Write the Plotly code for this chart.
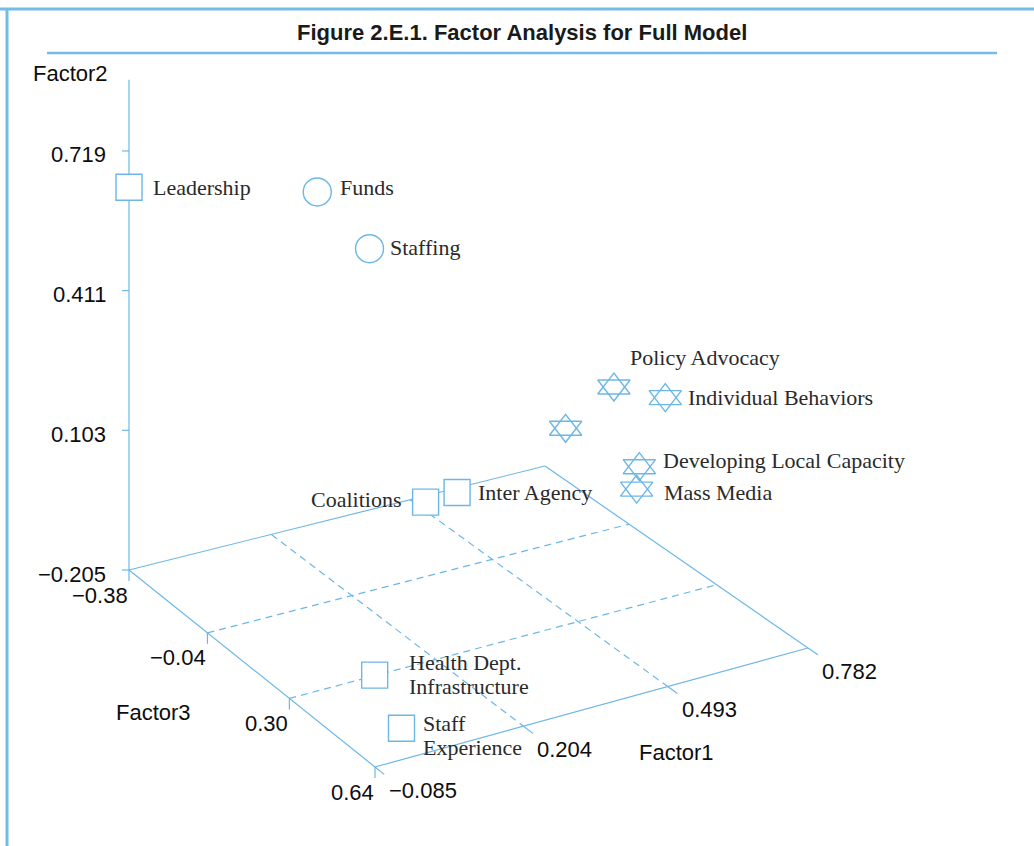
import plotly.graph_objects as go

# ---------------- data ----------------
ITEMS = ["Leadership", "Funds", "Staffing", "Policy Advocacy", "Individual Behaviors", "",
         "Developing Local Capacity", "Mass Media", "Coalitions", "Inter Agency",
         "Health Dept.\nInfrastructure", "Staff\nExperience"]
FACTOR1 = [-0.085, 0.200, 0.282, 0.768, 0.767, 0.665, 0.712, 0.651, 0.449, 0.541, -0.010, -0.034]
FACTOR2 = [0.639, 0.632, 0.505, 0.094, 0.147, 0.028, 0.008, 0.014, -0.139, -0.162, -0.100, -0.140]
FACTOR3 = [-0.380, -0.176, -0.125, -0.074, 0.130, -0.074, 0.130, 0.232, -0.227, -0.278, 0.487, 0.640]
GROUP = ["square", "circle", "circle", "star", "star", "star", "star", "star",
         "square", "square", "square", "square"]

F1_TICKS = [-0.085, 0.204, 0.493, 0.782]
F1_LABELS = ["\u22120.085", "0.204", "0.493", "0.782"]
F2_TICKS = [-0.205, 0.103, 0.411, 0.719]
F2_LABELS = ["\u22120.205", "0.103", "0.411", "0.719"]
F3_TICKS = [-0.38, -0.04, 0.30, 0.64]
F3_LABELS = ["\u22120.38", "\u22120.04", "0.30", "0.64"]
F2_AXIS_TOP = 0.876

TITLE = "Figure 2.E.1. Factor Analysis for Full Model"

# ---------------- projection (layout geometry) ----------------
W, H = 1034, 846
P0, P1, P2, P3 = (129, 570), (545, 466), (808, 648), (375, 767)  # floor corners (s,t)=(0,0),(1,0),(1,1),(0,1)
V_SCALE = 453.5  # px per unit of Factor2 at back-left corner

dx1, dx2 = P1[0] - P2[0], P3[0] - P2[0]
dy1, dy2 = P1[1] - P2[1], P3[1] - P2[1]
sx = P0[0] - P1[0] + P2[0] - P3[0]
sy = P0[1] - P1[1] + P2[1] - P3[1]
den = dx1 * dy2 - dx2 * dy1
g = (sx * dy2 - dx2 * sy) / den
h = (dx1 * sy - sx * dy1) / den
a = P1[0] - P0[0] + g * P1[0]
b = P3[0] - P0[0] + h * P3[0]
c = P0[0]
d = P1[1] - P0[1] + g * P1[1]
e = P3[1] - P0[1] + h * P3[1]
f = P0[1]

F1MIN, F1MAX = F1_TICKS[0], F1_TICKS[-1]
F3MIN, F3MAX = F3_TICKS[0], F3_TICKS[-1]
F2MIN = F2_TICKS[0]


def project(f1, f2, f3):
    s = (f1 - F1MIN) / (F1MAX - F1MIN)
    t = (f3 - F3MIN) / (F3MAX - F3MIN)
    w = g * s + h * t + 1
    x = (a * s + b * t + c) / w
    y = (d * s + e * t + f) / w - (f2 - F2MIN) * V_SCALE / w
    return x, y


LINE = "#6db7e6"
TXT = "#2a2a2a"

fig = go.Figure()


def seg_trace(segs, dash="solid", width=1.2):
    xs, ys = [], []
    for (x0, y0), (x1, y1) in segs:
        xs += [x0, x1, None]
        ys += [y0, y1, None]
    fig.add_trace(go.Scatter(x=xs, y=ys, mode="lines", hoverinfo="skip", showlegend=False,
                             line=dict(color=LINE, width=width, dash=dash)))


# floor edges + factor2 axis
solid = [
    (project(F1MIN, F2MIN, F3MIN), project(F1MAX, F2MIN, F3MIN)),
    (project(F1MAX, F2MIN, F3MIN), project(F1MAX, F2MIN, F3MAX)),
    (project(F1MAX, F2MIN, F3MAX), project(F1MIN, F2MIN, F3MAX)),
    (project(F1MIN, F2MIN, F3MAX), project(F1MIN, F2MIN, F3MIN)),
    (project(F1MIN, F2MIN, F3MIN), project(F1MIN, F2_AXIS_TOP, F3MIN)),
]
# tick marks
for v in F2_TICKS:
    x, y = project(F1MIN, v, F3MIN)
    solid.append(((x - 7, y), (x, y)))
for v in F3_TICKS:
    x, y = project(F1MIN, F2MIN, v)
    solid.append(((x, y), (x, y + 11)))
ext = 0.035 * (F3MAX - F3MIN)
for v in F1_TICKS:
    solid.append((project(v, F2MIN, F3MAX), project(v, F2MIN, F3MAX + ext)))
seg_trace(solid)

dashed = []
for v in F3_TICKS[1:-1]:
    dashed.append((project(F1MIN, F2MIN, v), project(F1MAX, F2MIN, v)))
for v in F1_TICKS[1:-1]:
    dashed.append((project(v, F2MIN, F3MIN), project(v, F2MIN, F3MAX)))
seg_trace(dashed, dash="7px,5px")

# markers
pts = [project(FACTOR1[i], FACTOR2[i], FACTOR3[i]) for i in range(len(ITEMS))]
for grp, sym_list, size, fill in [("square", ["square"], 26, "white"), ("circle", ["circle"], 28, "white"),
                                  ("star", ["triangle-up-open", "triangle-down-open"], 28, LINE)]:
    idx = [i for i in range(len(ITEMS)) if GROUP[i] == grp]
    for sym in sym_list:
        fig.add_trace(go.Scatter(
            x=[pts[i][0] for i in idx], y=[pts[i][1] for i in idx], mode="markers",
            hoverinfo="skip", showlegend=False,
            marker=dict(symbol=sym, size=size, color=fill,
                        line=dict(color=LINE, width=1.4))))

# point labels: (dx, dy, anchor) pixel offsets
LABEL_OFFSETS = [(22, 0, "left"), (21, -4, "left"), (18, -1, "left"), (14, -30, "left"),
                 (21, 0, "left"), (0, 0, "left"), (22, -6, "left"), (25, 3, "left"),
                 (-23, -3, "right"), (19, 0, "left"), (32, -1, "left"), (19, 7, "left")]
ann = []
for i, name in enumerate(ITEMS):
    if not name:
        continue
    lines = name.split("\n")
    dx, dy, anc = LABEL_OFFSETS[i]
    for j, ln in enumerate(lines):
        ann.append(dict(x=pts[i][0] + dx, y=pts[i][1] + dy + (j - (len(lines) - 1) / 2) * 24,
                        text=ln, xanchor=anc, yanchor="middle", showarrow=False,
                        font=dict(family="Liberation Serif", size=22, color=TXT)))

TICKFONT = dict(family="Liberation Sans", size=22, color="#0d0d0d")
for v, lab in zip(F2_TICKS, F2_LABELS):
    x, y = project(F1MIN, v, F3MIN)
    ann.append(dict(x=x - 21, y=y + 4, text=lab, xanchor="right", yanchor="middle",
                    showarrow=False, font=TICKFONT))
for v, lab in zip(F3_TICKS, F3_LABELS):
    x, y = project(F1MIN, F2MIN, v)
    ann.append(dict(x=x + 1, y=y + 25, text=lab, xanchor="right", yanchor="middle",
                    showarrow=False, font=TICKFONT))
for v, lab in zip(F1_TICKS, F1_LABELS):
    x, y = project(v, F2MIN, F3MAX)
    ann.append(dict(x=x + 12, y=y + 23, text=lab, xanchor="left", yanchor="middle",
                    showarrow=False, font=TICKFONT))

ann += [
    dict(x=70, y=73, text="Factor2", xanchor="center", yanchor="middle", showarrow=False, font=TICKFONT),
    dict(x=153, y=712, text="Factor3", xanchor="center", yanchor="middle", showarrow=False, font=TICKFONT),
    dict(x=676, y=752, text="Factor1", xanchor="center", yanchor="middle", showarrow=False, font=TICKFONT),
    dict(x=522, y=32, text="<b>" + TITLE + "</b>", xanchor="center", yanchor="middle", showarrow=False,
         font=dict(family="Liberation Sans", size=22, color="#1a1a1a")),
]

shapes = [
    dict(type="line", x0=0, x1=W, y0=9, y1=9, line=dict(color="#74bbe6", width=3), layer="below"),
    dict(type="line", x0=7, x1=7, y0=8, y1=H, line=dict(color="#74bbe6", width=3), layer="below"),
    dict(type="line", x0=47, x1=997, y0=53, y1=53, line=dict(color="#74bbe6", width=2.5), layer="below"),
]

fig.update_layout(
    width=W, height=H, autosize=False,
    margin=dict(l=0, r=0, t=0, b=0),
    paper_bgcolor="white", plot_bgcolor="white",
    xaxis=dict(range=[0, W], visible=False, fixedrange=True),
    yaxis=dict(range=[H, 0], visible=False, fixedrange=True),
    annotations=ann, shapes=shapes, showlegend=False,
)
fig.write_html("out.html", config={"displayModeBar": False, "staticPlot": True},
               post_script="document.body.style.margin='0';document.body.style.padding='0';"
                           "document.body.style.overflow='hidden';")
